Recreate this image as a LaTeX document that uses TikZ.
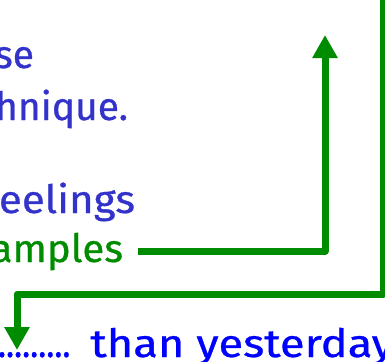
\documentclass[tikz,border=0pt]{standalone}
\usepackage{fontspec}
\setmainfont{Fira Sans}[FakeBold=0.7]
\usetikzlibrary{arrows.meta}
\definecolor{txtblue}{RGB}{51,51,204}
\definecolor{brightblue}{RGB}{0,0,255}
\definecolor{arrgreen}{RGB}{0,140,0}
\tikzset{
  lbl/.style={inner sep=0pt, outer sep=0pt, font=\fontsize{39pt}{44pt}\selectfont},
  conn/.style={draw=arrgreen, line width=7pt, line join=round,
    -{Triangle[width=24pt,length=23pt]}, arrgreen}
}
\begin{document}
\begin{tikzpicture}[x=1pt,y=-1pt]
\useasboundingbox (0,0) rectangle (385,361);
\node[lbl, text=txtblue, anchor=base east] (t1) at (34,68) {se};
\node[lbl, text=txtblue, anchor=base east] (t2) at (128,120) {hnique.};
\node[lbl, text=txtblue, anchor=base east] (t3) at (135,213) {\scalebox{1.08}[1]{eelings}};
\node[lbl, text=arrgreen, anchor=base east] (t4) at (123,262) {\scalebox{1.03}[1]{amples}};
\node[lbl, text=brightblue, anchor=base west] (t5) at (-2,357) {\scalebox{0.86}[1]{.........}\hspace{20pt}\scalebox{1.16}[1]{than yesterday}};
\coordinate (s1) at (138,251);
\coordinate (e1) at (325,35);
\coordinate (s2) at (383,-10);
\coordinate (e2) at (17,350);
\draw[conn] (s1) -- (325,251) -- (e1);
\draw[conn] (s2) -- (383,294) -- (17,294) -- (e2);
\end{tikzpicture}
\end{document}
